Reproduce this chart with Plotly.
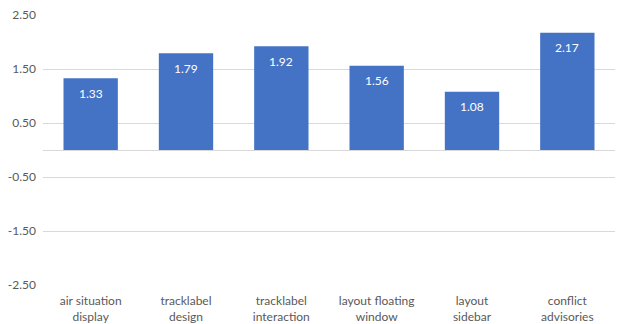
import plotly.graph_objects as go

categories = ["air situation<br>display", "tracklabel<br>design", "tracklabel<br>interaction",
              "layout floating<br>window", "layout<br>sidebar", "conflict<br>advisories"]
values = [1.33, 1.79, 1.92, 1.56, 1.08, 2.17]
tick_vals = [-2.5, -1.5, -0.5, 0.5, 1.5, 2.5]
tick_text = ["-2.50", "-1.50", "-0.50", "0.50", "1.50", "2.50"]

FONT = "Lato, Open Sans, sans-serif"

fig = go.Figure(go.Bar(
    x=categories, y=values,
    marker=dict(color="#4472C4", line=dict(width=0)),
    hoverinfo="x+y",
))
for c, v in zip(categories, values):
    fig.add_annotation(x=c, y=v, text=f"{v:.2f}", showarrow=False,
                       yanchor="middle", yshift=-15,
                       font=dict(color="white", size=12, family=FONT))
fig.update_layout(
    width=620, height=324,
    margin=dict(l=43, r=5, t=15, b=39),
    plot_bgcolor="white", paper_bgcolor="white",
    bargap=0.43, showlegend=False,
    font=dict(family=FONT, size=12, color="#595959"),
)
fig.update_yaxes(range=[-2.5, 2.5], tickvals=tick_vals, ticktext=tick_text,
                 showgrid=True, gridcolor="#D9D9D9", gridwidth=1,
                 zeroline=True, zerolinecolor="#D9D9D9", zerolinewidth=1,
                 ticks="", showline=False, ticklabelstandoff=6, automargin=False,
                 tickfont=dict(size=12, color="#595959", family=FONT))
fig.update_xaxes(showgrid=False, showline=False, ticks="", ticklabelstandoff=7,
                 automargin=False,
                 tickfont=dict(size=12, color="#595959", family=FONT))
fig.write_html("out.html")
